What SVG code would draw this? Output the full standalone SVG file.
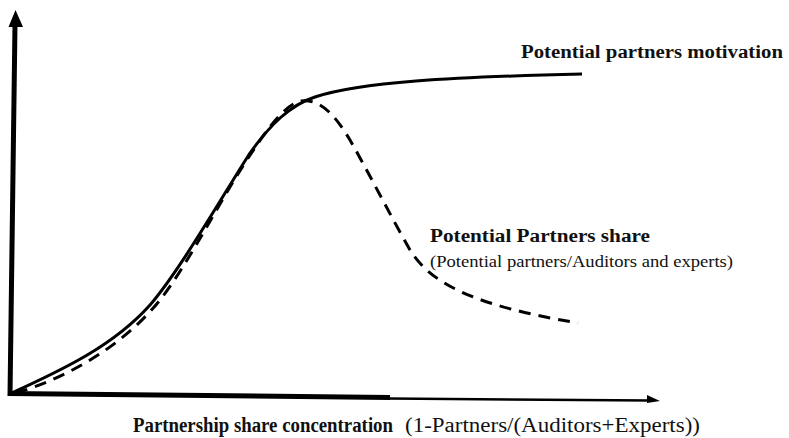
<svg xmlns="http://www.w3.org/2000/svg" width="789" height="438" viewBox="0 0 789 438">
<style>
.b{font-weight:bold;font-size:18px;fill:#111}
.r{font-size:16px;fill:#111}
.c{fill:none;stroke:#000;stroke-width:3;stroke-linecap:butt}
.d{stroke-dasharray:12 8}
</style>
<rect width="789" height="438" fill="#fff"/>
<g id="axes">
<line x1="10" y1="396" x2="15" y2="24" stroke="#000" stroke-width="5"/>
<polygon points="15.5,10 8.5,27 23,27" fill="#000"/>
<line x1="8" y1="393.5" x2="390" y2="397.5" stroke="#000" stroke-width="5"/>
<line x1="388" y1="398.5" x2="650" y2="400.5" stroke="#000" stroke-width="2.5"/>
<polygon points="647,395 660,401 647,403" fill="#000"/>
</g>
<g id="connectors">
<path id="motivation-curve" class="c" d="M12,393 C50,375 110,350 150,305 C180,270 220,200 250,153 C270,125 290,105 315,97 C360,82 450,77 582,74"/>
<path id="share-curve" class="c d" d="M16,393 C60,380 120,350 160,300 C190,262 225,190 255,148 C270,125 285,106 300,101 C320,98 335,115 350,140 C370,175 390,215 410,250 C430,282 470,305 578,323"/>
</g>
<g font-family="'Liberation Serif', 'DejaVu Serif', 'Times New Roman', serif">
<g id="label-motivation">
<text class="b" x="521" y="58" textLength="262" lengthAdjust="spacingAndGlyphs">Potential partners motivation</text>
</g>
<g id="label-share">
<text class="b" x="430" y="242" textLength="220" lengthAdjust="spacingAndGlyphs">Potential Partners share</text>
<text class="r" x="430" y="267" textLength="303" lengthAdjust="spacingAndGlyphs">(Potential partners/Auditors and experts)</text>
</g>
<g id="label-xaxis">
<text class="b" x="133" y="432" style="font-size:20px" textLength="260" lengthAdjust="spacingAndGlyphs">Partnership share concentration</text>
<text class="r" x="405" y="432" style="font-size:20px" textLength="295" lengthAdjust="spacingAndGlyphs">(1-Partners/(Auditors+Experts))</text>
</g>
</g>
</svg>
